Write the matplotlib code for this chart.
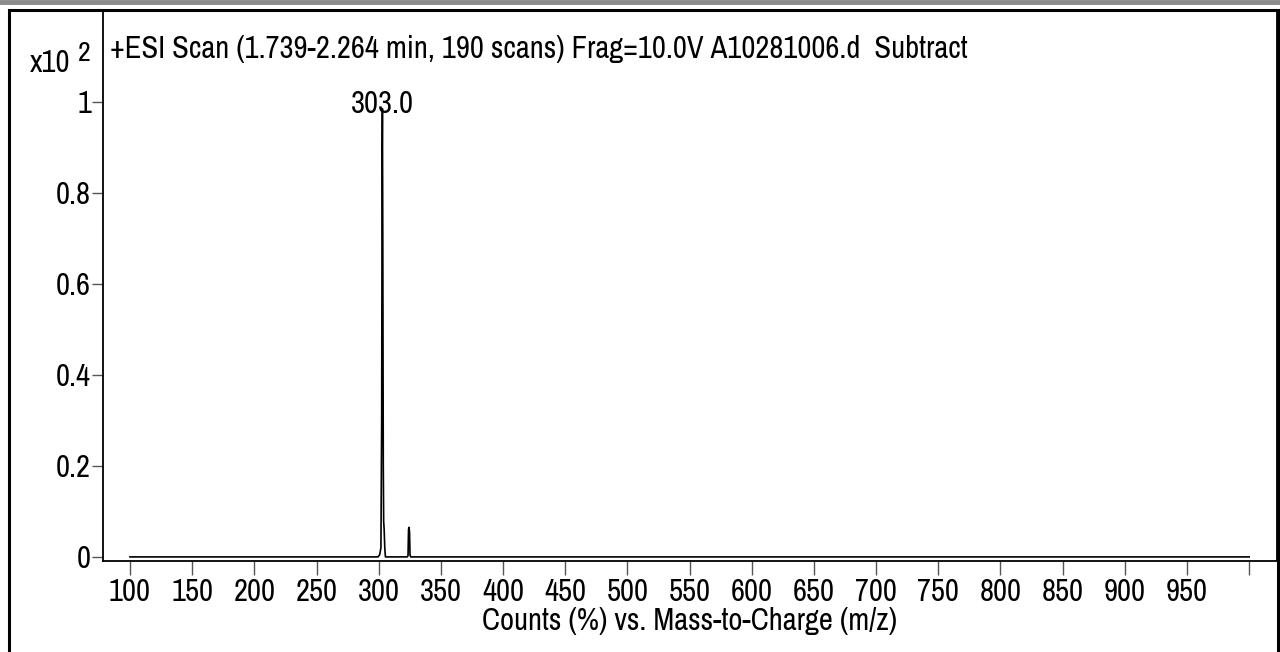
import numpy as np
import matplotlib.pyplot as plt
from matplotlib.patches import Rectangle
from matplotlib.lines import Line2D

plt.rcParams['font.family'] = ['Archivo Narrow', 'Liberation Sans', 'DejaVu Sans']

# profile spectrum, m/z vs relative counts (x10^2)
mz = [100, 299.5, 300.8, 301.8, 302.4, 302.8, 303.0, 303.3, 303.7, 304.0, 304.4, 304.9, 305.4,
      323.0, 323.6, 324.0, 324.4, 324.8, 325.2, 325.8, 1000]
counts = [0, 0, 0.005, 0.02, 0.3, 0.9, 0.985, 0.7, 0.2, 0.078, 0.06, 0.02, 0,
          0, 0.003, 0.06, 0.065, 0.055, 0.004, 0, 0]
peak_labels = [(303.0, 0.976, "303.0")]
xticks = list(range(100, 1001, 50))
xticklabels = [str(t) if t < 1000 else "" for t in xticks]
yticks = [0, 0.2, 0.4, 0.6, 0.8, 1]
yticklabels = ["0", "0.2", "0.4", "0.6", "0.8", "1"]

W, H = 1280, 652
fig = plt.figure(figsize=(12.8, 6.52), dpi=100)
ax = fig.add_axes([103/W, 1 - 561/H, (1277-103)/W, (561-10)/H])

ax.plot(mz, counts, color='black', lw=1.2)
for x, y, s in peak_labels:
    ax.text(x, y, s, ha='center', va='baseline', fontsize=22)

ax.set_xlim(78.3, 1022.4)
ax.set_ylim(-0.009, 1.202)
ax.set_xticks(xticks)
ax.set_xticklabels(xticklabels)
ax.set_yticks(yticks)
ax.set_yticklabels(yticklabels)
ax.tick_params(axis='both', labelsize=22, width=1, color='#555555')
ax.tick_params(axis='x', length=10, pad=2)
ax.tick_params(axis='y', length=8, pad=0.5)
for s in ax.spines.values():
    s.set_linewidth(1.3)
ax.set_xlabel("Counts (%) vs. Mass-to-Charge (m/z)", fontsize=22, va='baseline')
ax.xaxis.set_label_coords(0.5, -(630 - 561) / 551)

fig.text(110/W, 1 - 58/H, "+ESI Scan (1.739-2.264 min, 190 scans) Frag=10.0V A10281006.d  Subtract",
         ha='left', va='baseline', fontsize=22)
fig.text(30/W, 1 - 72/H, "x10", fontsize=22, ha='left', va='baseline')
fig.text(78/W, 1 - 61/H, "2", fontsize=20, ha='left', va='baseline')

# outer frame and top band
fig.patches.append(Rectangle((9/W, -0.01), (1278-9)/W, (H-10)/H + 0.01,
                             transform=fig.transFigure, fill=False, ec='black', lw=2.2))
fig.lines.append(Line2D([0, 1], [1 - 2/H, 1 - 2/H], transform=fig.transFigure,
                        color='#8a8a8a', lw=3.5))

fig.savefig("out.png", dpi=100)
